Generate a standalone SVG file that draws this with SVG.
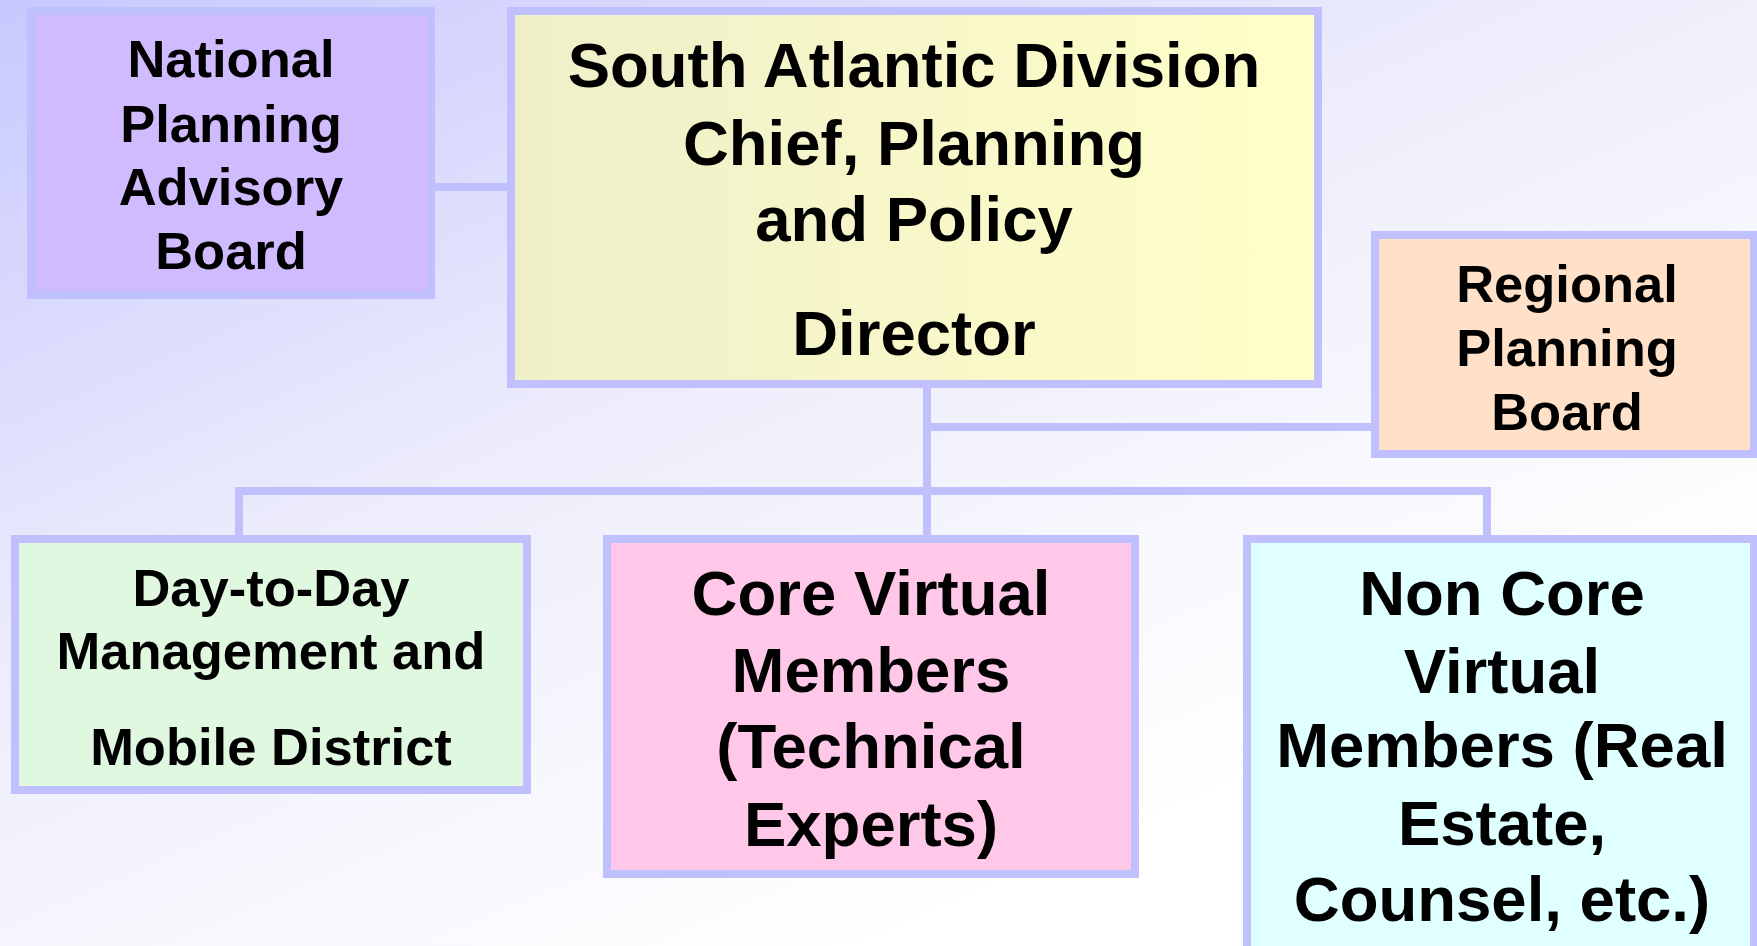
<svg xmlns="http://www.w3.org/2000/svg" width="1757" height="946" viewBox="0 0 1757 946">
<defs>
<linearGradient id="bg" x1="0" y1="0" x2="0.8" y2="1">
<stop offset="0" stop-color="#c8c8ff"/>
<stop offset="0.45" stop-color="#eeeefc"/>
<stop offset="0.85" stop-color="#ffffff"/>
</linearGradient>
<linearGradient id="yel" x1="0" y1="0" x2="1" y2="0">
<stop offset="0" stop-color="#efefca"/>
<stop offset="1" stop-color="#ffffc8"/>
</linearGradient>
<style>
.box{stroke:#c0c0ff;stroke-width:8}
.t{font-family:"Liberation Sans",Arial,sans-serif;font-weight:bold;fill:#000;text-anchor:middle}
.s52{font-size:52.5px}
.s63{font-size:63.5px}
.c{stroke:#c0c0ff;stroke-width:8;fill:none}
</style>
</defs>
<rect width="1757" height="946" fill="url(#bg)"/>
<g id="connectors">
<line class="c" x1="435" y1="187" x2="511" y2="187"/>
<line class="c" x1="927" y1="384" x2="927" y2="539"/>
<line class="c" x1="927" y1="427" x2="1375" y2="427"/>
<line class="c" x1="235" y1="491" x2="1491" y2="491"/>
<line class="c" x1="239" y1="491" x2="239" y2="539"/>
<line class="c" x1="1487" y1="491" x2="1487" y2="539"/>
</g>
<g id="npab">
<rect class="box" x="31" y="11" width="400" height="284" fill="#d0bbff"/>
<text class="t s52" x="231" y="77">National</text>
<text class="t s52" x="231" y="142">Planning</text>
<text class="t s52" x="231" y="205">Advisory</text>
<text class="t s52" x="231" y="269">Board</text>
</g>
<g id="director">
<rect class="box" x="511" y="11" width="807" height="373" fill="url(#yel)"/>
<text class="t s63" x="914" y="87">South Atlantic Division</text>
<text class="t s63" x="914" y="165">Chief, Planning</text>
<text class="t s63" x="914" y="241">and Policy</text>
<text class="t s63" x="914" y="355">Director</text>
</g>
<g id="rpb">
<rect class="box" x="1375" y="235" width="379" height="219" fill="#ffe0c8"/>
<text class="t s52" x="1567" y="302">Regional</text>
<text class="t s52" x="1567" y="366">Planning</text>
<text class="t s52" x="1567" y="430">Board</text>
</g>
<g id="daytoday">
<rect class="box" x="15" y="539" width="512" height="251" fill="#e0f8e0"/>
<text class="t s52" x="271" y="606">Day-to-Day</text>
<text class="t s52" x="271" y="669">Management and</text>
<text class="t s52" x="271" y="765">Mobile District</text>
</g>
<g id="core">
<rect class="box" x="607" y="539" width="528" height="335" fill="#ffc8e8"/>
<text class="t s63" x="871" y="615">Core Virtual</text>
<text class="t s63" x="871" y="692">Members</text>
<text class="t s63" x="871" y="768">(Technical</text>
<text class="t s63" x="871" y="846">Experts)</text>
</g>
<g id="noncore">
<rect class="box" x="1247" y="539" width="507" height="420" fill="#e0ffff"/>
<text class="t s63" x="1502" y="615">Non Core</text>
<text class="t s63" x="1502" y="693">Virtual</text>
<text class="t s63" x="1502" y="767">Members (Real</text>
<text class="t s63" x="1502" y="845">Estate,</text>
<text class="t s63" x="1502" y="921">Counsel, etc.)</text>
</g>
</svg>
